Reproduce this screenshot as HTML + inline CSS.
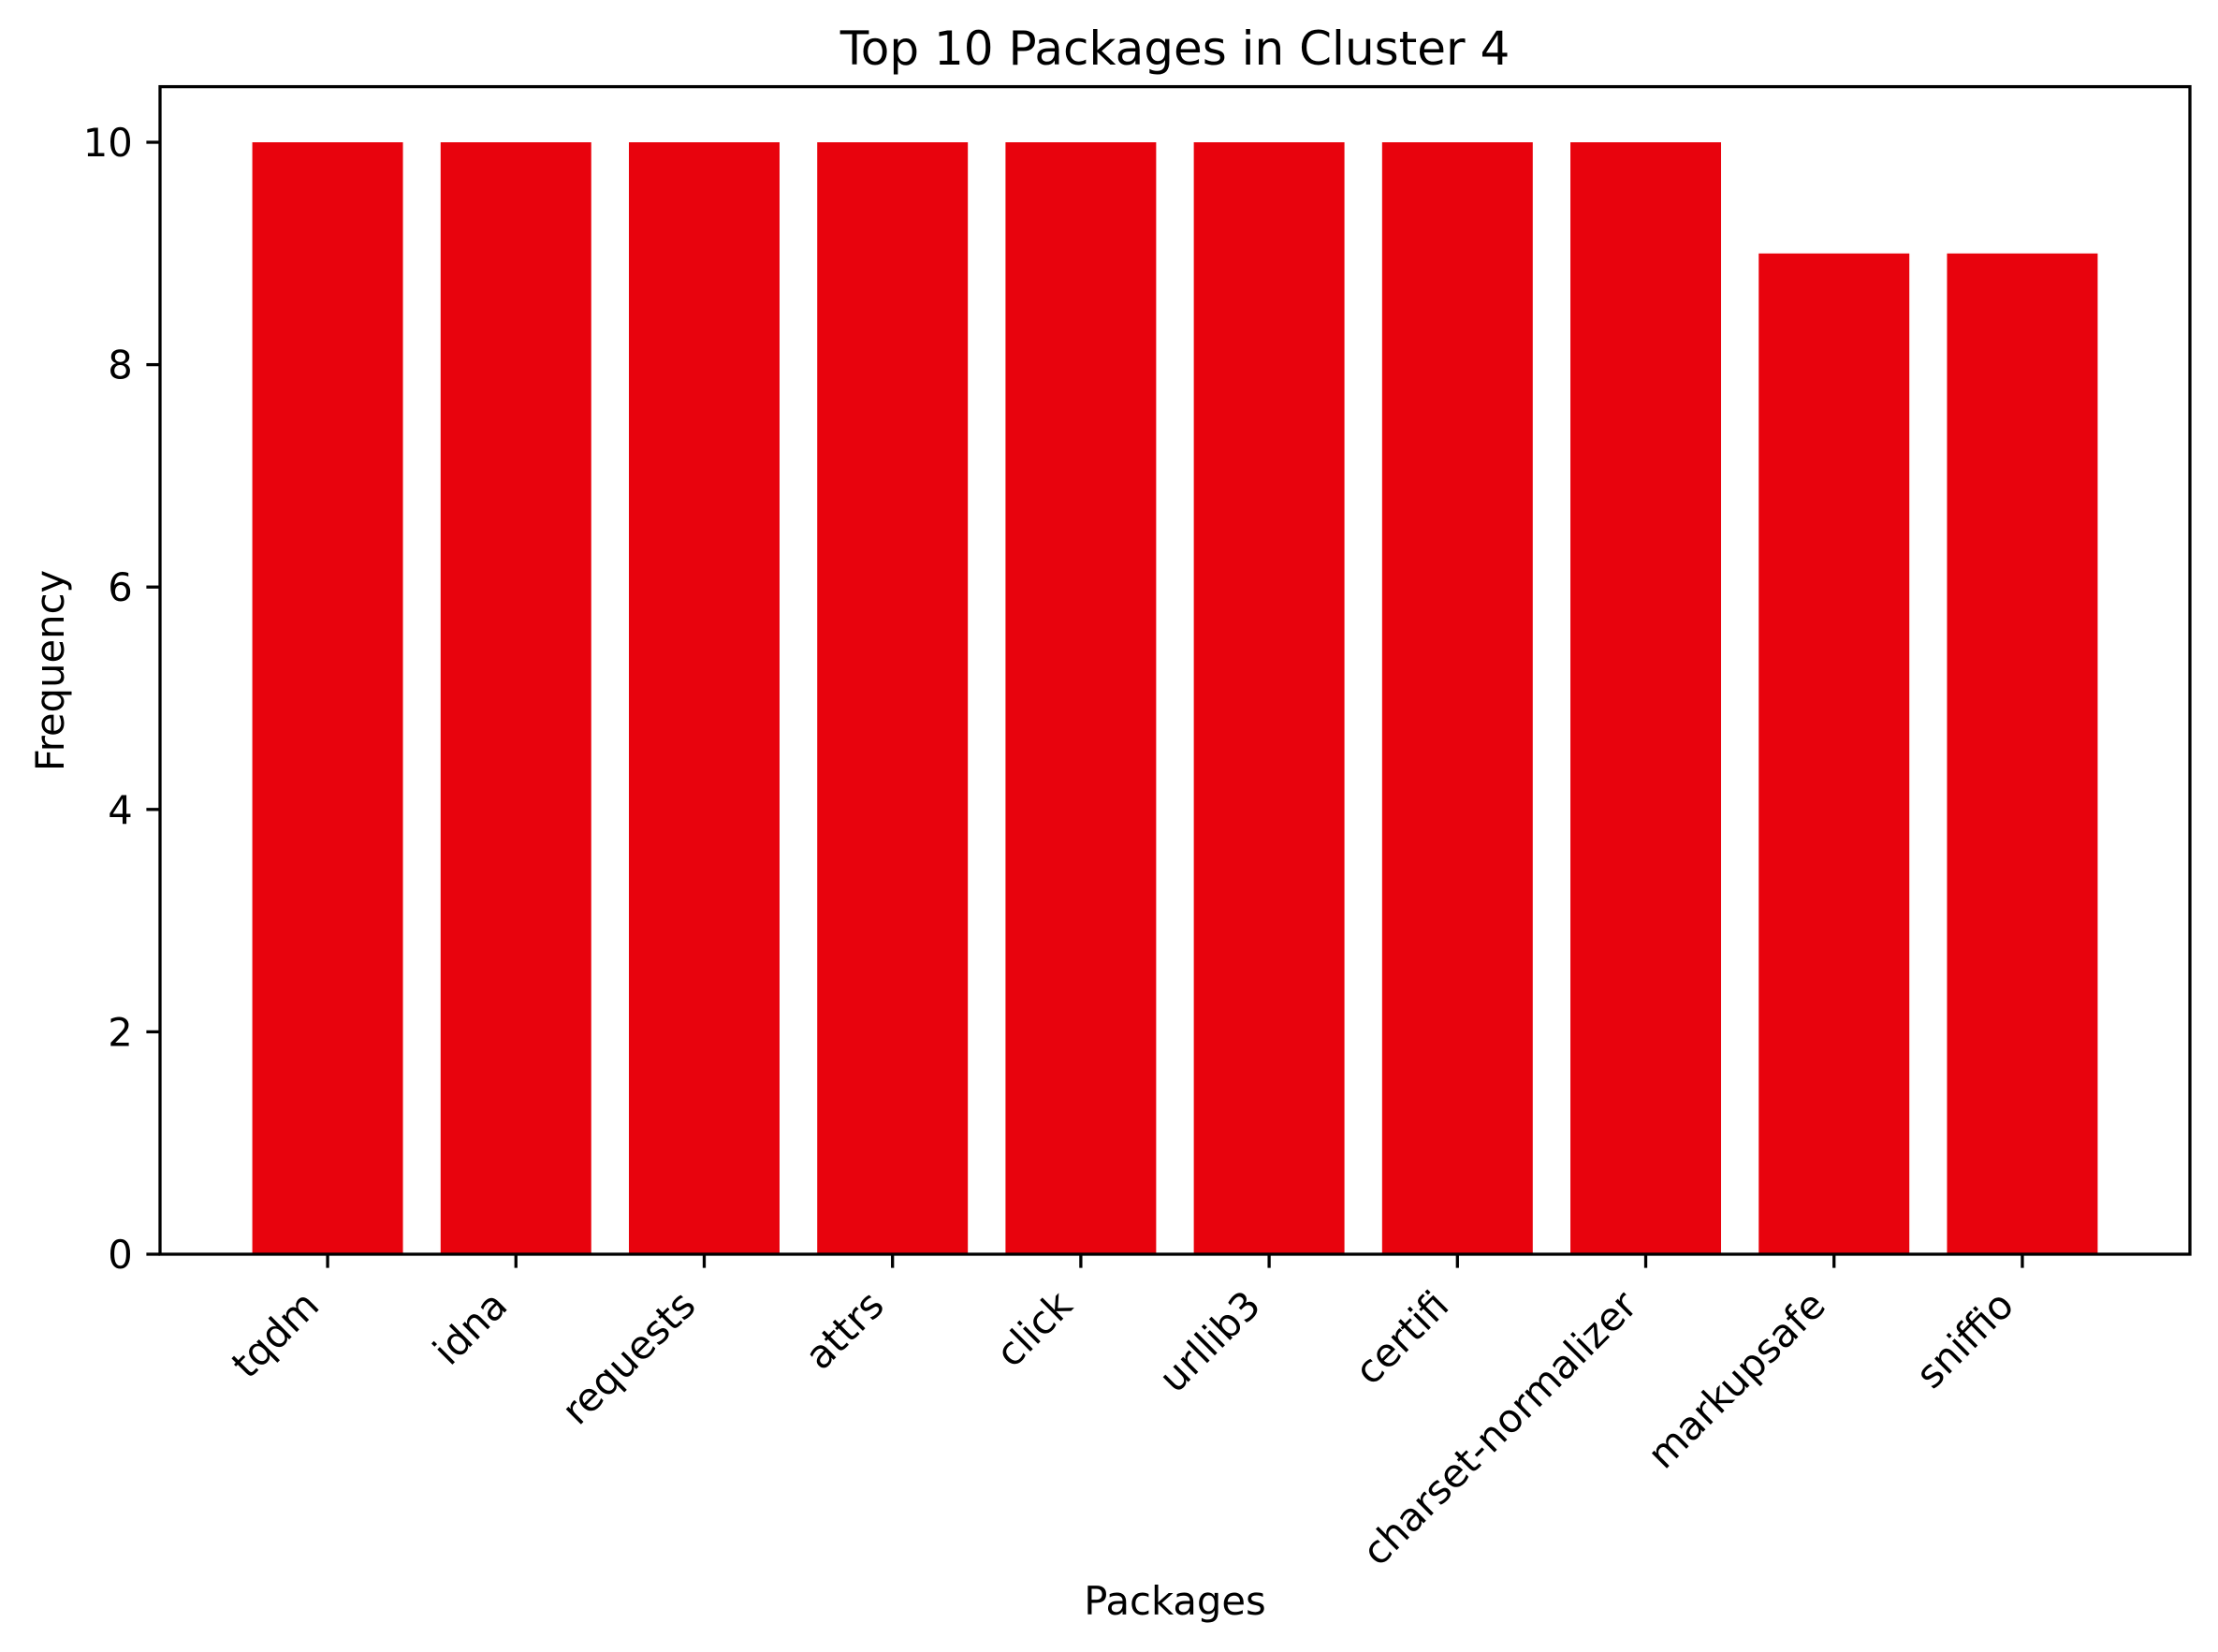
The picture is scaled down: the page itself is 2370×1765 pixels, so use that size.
<!DOCTYPE html>
<html><head><meta charset="utf-8"><style>
html,body{margin:0;padding:0;background:#fff;}
svg{display:block;font-family:"DejaVu Sans","Liberation Sans",sans-serif;}
</style></head><body>
<svg id="chart" width="2370" height="1765" viewBox="0 0 2370 1765">
<rect width="2370" height="1765" fill="#fff"/>
<g id="bars"></g>
<g id="xticks"></g>
<g id="yticks"></g>
<rect x="171" y="92.6" width="2169" height="1247.4" fill="none" stroke="#000" stroke-width="3.3"/>
<text x="1255.5" y="69" font-size="50" text-anchor="middle">Top 10 Packages in Cluster 4</text>
<text x="1255.5" y="1725" font-size="41.7" text-anchor="middle">Packages</text>
<text transform="translate(68,716.5) rotate(-90)" font-size="41.7" text-anchor="middle">Frequency</text>
</svg>
<script>
const categories = ["tqdm","idna","requests","attrs","click","urllib3","certifi","charset-normalizer","markupsafe","sniffio"];
const values = [10,10,10,10,10,10,10,10,9,9];
const yTicks = [0,2,4,6,8,10];

const NS = "http://www.w3.org/2000/svg";
const plotLeft = 171, plotRight = 2340, plotTop = 92.6, plotBottom = 1340;
const xMin = -0.89, xMax = categories.length - 1 + 0.89;
const yMin = 0, yMax = 10.5;
function xScale(i){ return plotLeft + (i - xMin) / (xMax - xMin) * (plotRight - plotLeft); }
function yScale(v){ return plotBottom - (v - yMin) / (yMax - yMin) * (plotBottom - plotTop); }
const step = xScale(1) - xScale(0);
const barW = step * 0.8;

const gb = document.getElementById("bars");
const gx = document.getElementById("xticks");
const gy = document.getElementById("yticks");

categories.forEach((c, i) => {
  const r = document.createElementNS(NS, "rect");
  const cx = xScale(i);
  r.setAttribute("x", cx - barW / 2);
  r.setAttribute("y", yScale(values[i]));
  r.setAttribute("width", barW);
  r.setAttribute("height", yScale(0) - yScale(values[i]));
  r.setAttribute("fill", "#e8030d");
  
  
  gb.appendChild(r);

  const t = document.createElementNS(NS, "line");
  t.setAttribute("x1", cx); t.setAttribute("x2", cx);
  t.setAttribute("y1", plotBottom); t.setAttribute("y2", plotBottom + 14.6);
  t.setAttribute("stroke", "#000"); t.setAttribute("stroke-width", "3.3");
  
  
  gx.appendChild(t);

  const lb = document.createElementNS(NS, "text");
  lb.setAttribute("transform", "translate(" + (cx - 7) + "," + 1397 + ") rotate(-45)");
  lb.setAttribute("text-anchor", "end");
  lb.setAttribute("font-size", "41.7");
  lb.textContent = c;
  
  
  gx.appendChild(lb);
});

yTicks.forEach(v => {
  const y = yScale(v);
  const t = document.createElementNS(NS, "line");
  t.setAttribute("x1", plotLeft - 14.6); t.setAttribute("x2", plotLeft);
  t.setAttribute("y1", y); t.setAttribute("y2", y);
  t.setAttribute("stroke", "#000"); t.setAttribute("stroke-width", "3.3");
  
  
  gy.appendChild(t);

  const lb = document.createElementNS(NS, "text");
  lb.setAttribute("x", plotLeft - 29.2);
  lb.setAttribute("y", y + 15);
  lb.setAttribute("text-anchor", "end");
  lb.setAttribute("font-size", "41.7");
  lb.textContent = String(v);
  
  
  gy.appendChild(lb);
});
</script>
</body></html>
